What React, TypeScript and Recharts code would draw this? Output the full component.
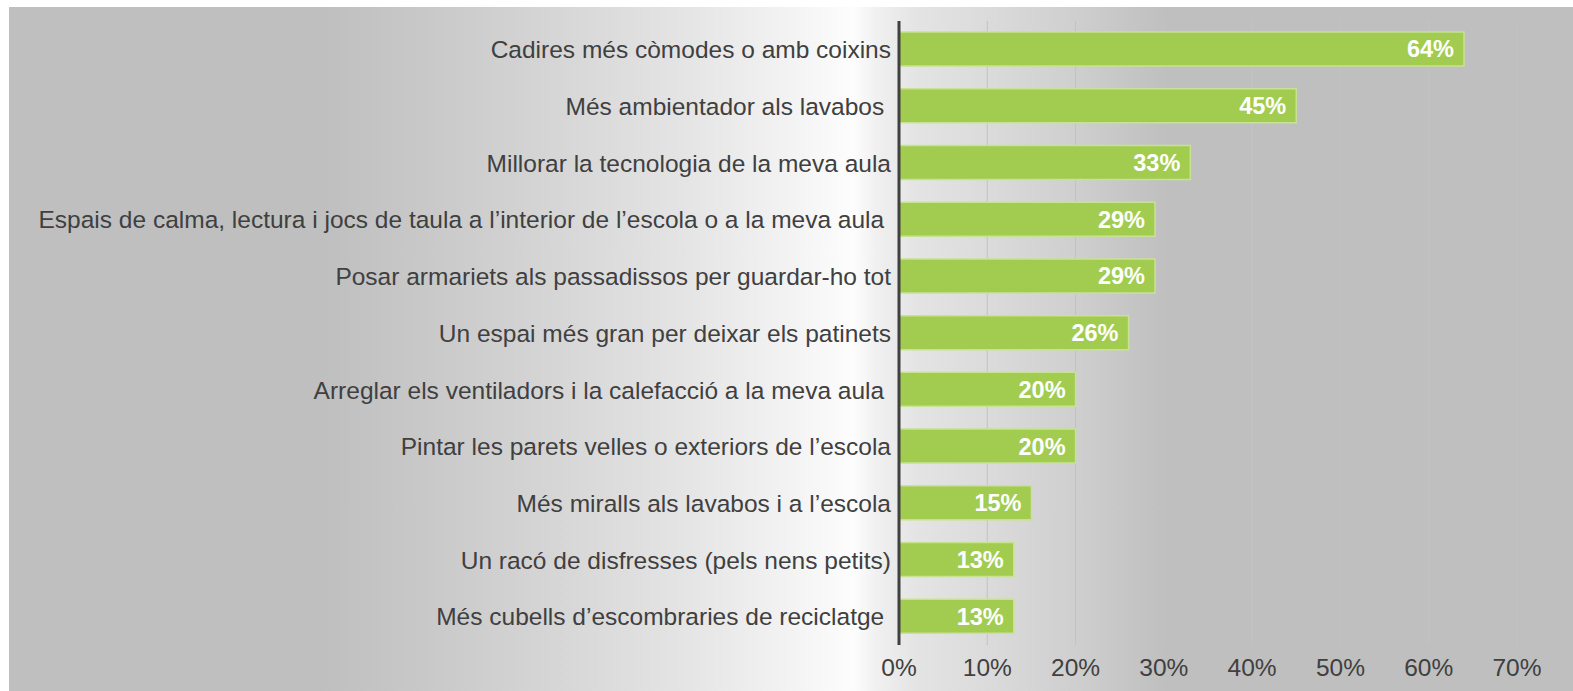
import React from 'react';
import { BarChart, Bar, XAxis, YAxis, CartesianGrid, LabelList } from 'recharts';

const categories: string[] = [
  'Cadires més còmodes o amb coixins',
  'Més ambientador als lavabos ',
  'Millorar la tecnologia de la meva aula',
  'Espais de calma, lectura i jocs de taula a l’interior de l’escola o a la meva aula ',
  'Posar armariets als passadissos per guardar-ho tot',
  'Un espai més gran per deixar els patinets',
  'Arreglar els ventiladors i la calefacció a la meva aula ',
  'Pintar les parets velles o exteriors de l’escola',
  'Més miralls als lavabos i a l’escola',
  'Un racó de disfresses (pels nens petits)',
  'Més cubells d’escombraries de reciclatge ',
];

const values: number[] = [0.64, 0.45, 0.33, 0.29, 0.29, 0.26, 0.2, 0.2, 0.15, 0.13, 0.13];

const xTicks: number[] = [0, 0.1, 0.2, 0.3, 0.4, 0.5, 0.6, 0.7];

const data = categories.map((name, i) => ({ name, value: values[i] }));

const FONT = '"Liberation Sans", Arial, Helvetica, sans-serif';
const TEXT_COLOR = '#404040';

const pct = (v: number) => `${Math.round(v * 100)}%`;

const YTick = (props: any) => {
  const { x, y, payload } = props;
  return (
    <text
      x={x}
      y={y}
      dy="0.36em"
      textAnchor="end"
      fill={TEXT_COLOR}
      fontSize={24.5}
      fontFamily={FONT}
      xmlSpace="preserve"
      style={{ whiteSpace: 'pre' }}
    >
      {payload.value}
    </text>
  );
};

const XTick = (props: any) => {
  const { x, y, payload } = props;
  return (
    <text
      x={x}
      y={y}
      dy="0.71em"
      textAnchor="middle"
      fill={TEXT_COLOR}
      fontSize={24.5}
      fontFamily={FONT}
    >
      {pct(payload.value)}
    </text>
  );
};

const BarLabel = (props: any) => {
  const { x, y, width, height, value } = props;
  return (
    <text
      x={x + width - 10}
      y={y + height / 2}
      dy="0.36em"
      textAnchor="end"
      fill="#ffffff"
      fontSize={23.5}
      fontWeight="bold"
      fontFamily={FONT}
    >
      {pct(value)}
    </text>
  );
};

export default function App() {
  return (
    <div
      style={{
        position: 'absolute',
        left: 0,
        top: 0,
        width: 1573,
        height: 691,
        background: '#ffffff',
        overflow: 'hidden',
      }}
    >
      <div
        style={{
          position: 'absolute',
          left: 9,
          top: 7,
          right: 0,
          bottom: 0,
          background:
            'linear-gradient(to right, #bfbfbf 0%, #bfbfbf 20%, #c9c9c9 27%, #d6d6d6 35%, #e4e4e4 43%, #f3f3f3 50%, #fdfdfd 54%, #f0f0f0 55.5%, #e4e4e4 58%, #dadada 63%, #cecece 68.5%, #bfbfbf 74%, #bfbfbf 100%)',
        }}
      />
      <div style={{ position: 'absolute', left: 0, top: 0 }}>
        <BarChart
          width={1573}
          height={691}
          data={data}
          layout="vertical"
          margin={{ top: 21, right: 56, bottom: 16, left: 0 }}
          barSize={34}
        >
          <CartesianGrid horizontal={false} vertical={true} stroke="#c3c3c3" strokeWidth={1} />
          <XAxis
            type="number"
            domain={[0, 0.7]}
            ticks={xTicks}
            axisLine={false}
            tickLine={false}
            height={30}
            tickMargin={8}
            tick={<XTick />}
            interval={0}
          />
          <YAxis
            type="category"
            dataKey="name"
            width={899}
            axisLine={{ stroke: '#404040', strokeWidth: 3 }}
            tickLine={false}
            tickMargin={2}
            tickSize={6}
            tick={<YTick />}
            interval={0}
          />
          <Bar
            dataKey="value"
            fill="#a2cc50"
            stroke="#c8e294"
            strokeWidth={1.5}
            isAnimationActive={false}
          >
            <LabelList dataKey="value" content={<BarLabel />} />
          </Bar>
        </BarChart>
      </div>
    </div>
  );
}
